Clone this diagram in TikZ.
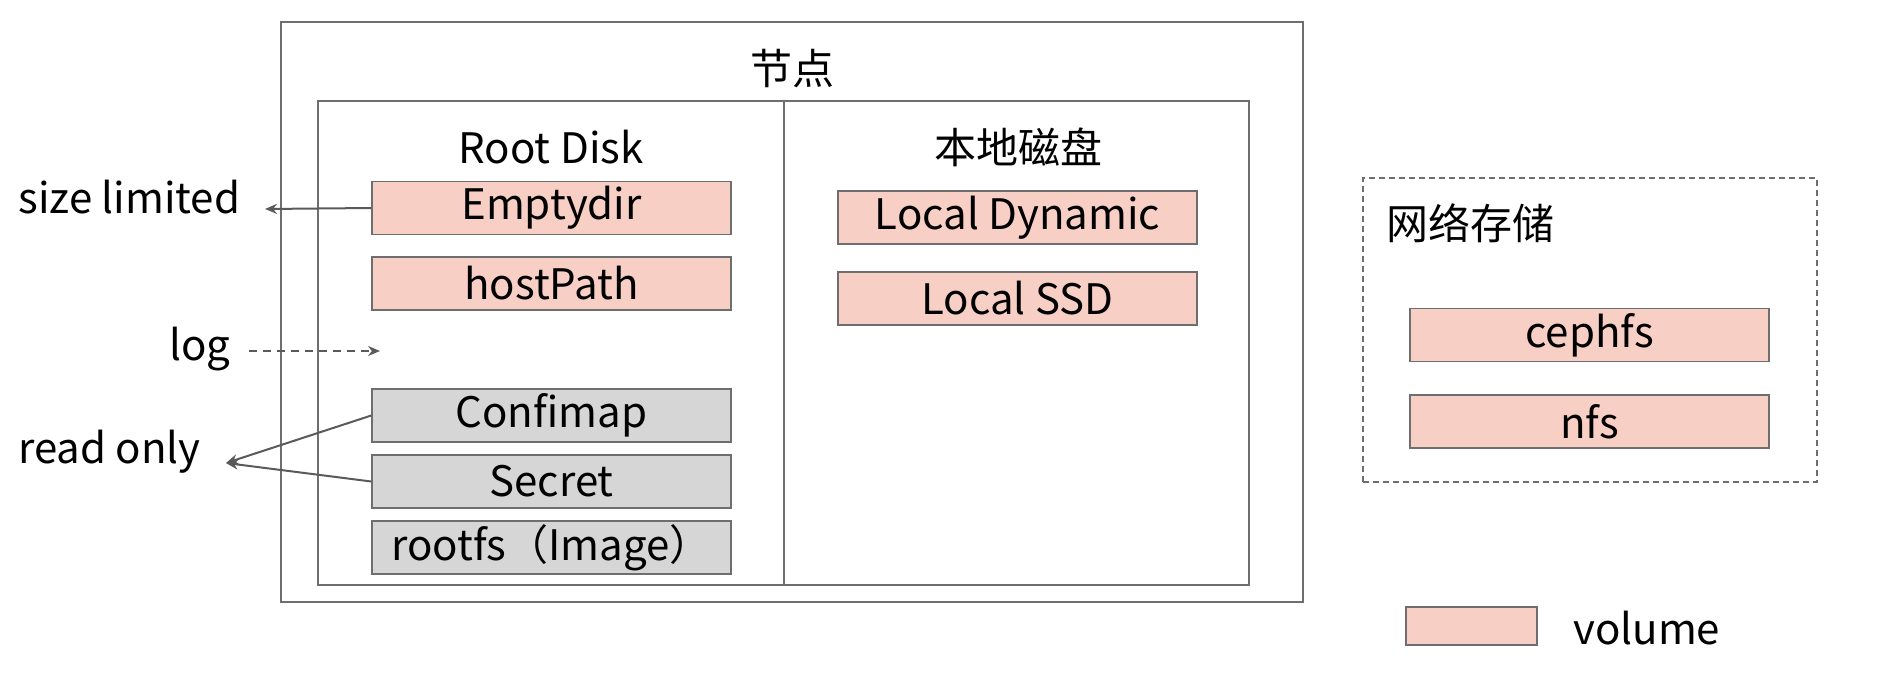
\documentclass[tikz,border=0pt]{standalone}
\usepackage{fontspec}
\setmainfont{Noto Sans CJK SC}
\usetikzlibrary{arrows.meta}
\definecolor{volpink}{HTML}{F8CFC4}
\definecolor{rogray}{HTML}{D6D6D6}
\definecolor{edgegray}{HTML}{6E6E6E}
\definecolor{linegray}{HTML}{5A5A5A}
\begin{document}
\begin{tikzpicture}[x=0.5pt,y=-0.5pt,
  every node/.style={font=\fontsize{21}{25}\selectfont, text=black},
  label/.style={inner sep=0pt},
  container/.style={draw=edgegray, line width=0.7pt, inner sep=0pt},
  volbox/.style={draw=edgegray, line width=0.7pt, fill=volpink, minimum width=179.5pt, minimum height=26.5pt, inner sep=0pt},
  robox/.style={volbox, fill=rogray},
  conn/.style={draw=linegray, line width=1pt, -{Stealth[length=6pt,width=5pt]}}
]
\useasboundingbox (0,0) rectangle (1904,691);
% containers
\node[container, minimum width=511pt, minimum height=290pt] (outer) at (792,312) {};
\node[container, minimum width=465.5pt, minimum height=242pt] (inner) at (783.5,343) {};
\coordinate (divtop) at (784,101);
\coordinate (divbot) at (784,585);
\draw[edgegray, line width=0.7pt] (divtop) -- (divbot);
\node[container, dashed, dash pattern=on 3pt off 2pt, minimum width=227pt, minimum height=152pt] (net) at (1590,330) {};
% titles
\node (nodetitle) at (792,69) {节点};
\node (roottitle) at (551,147) {Root Disk};
\node (localtitle) at (1018,147) {本地磁盘};
\node[label, anchor=west] (nettitle) at (1386,223) {网络存储};
% root disk volumes
\node[volbox] (emptydir) at (551.5,208) {Emptydir};
\node[volbox] (hostpath) at (551.5,283.5) {hostPath};
\node[robox] (confimap) at (551.5,415.5) {Confimap};
\node[robox] (secret) at (551.5,481.5) {Secret};
\node[robox] (rootfs) at (551.5,547.5) {rootfs（Image）};
% local disk
\node[volbox] (localdyn) at (1017.5,217.5) {Local Dynamic};
\node[volbox] (localssd) at (1017.5,298.5) {Local SSD};
% network
\node[volbox] (cephfs) at (1589.5,335) {cephfs};
\node[volbox] (nfs) at (1589.5,421.5) {nfs};
% legend
\node[volbox, minimum width=65.5pt, minimum height=19pt] (legend) at (1471.5,626) {};
\node[label, anchor=west] (legendtext) at (1573,628) {volume};
% side labels
\node[label, anchor=west] (sizelim) at (18,197) {size limited};
\node[label, anchor=east] (logl) at (231,349) {log};
\node[label, anchor=west] (readonly) at (18,452) {read only};
% connectors
\coordinate (slend) at (265,209);
\coordinate (logstart) at (249,351);
\coordinate (logend) at (380,351);
\coordinate (roend) at (226,463);
\draw[conn] (emptydir.west) -- (slend);
\draw[conn, dashed, dash pattern=on 4pt off 3pt] (logstart) -- (logend);
\draw[conn] (confimap.west) -- (roend);
\draw[conn] (secret.west) -- (roend);
\end{tikzpicture}
\end{document}
